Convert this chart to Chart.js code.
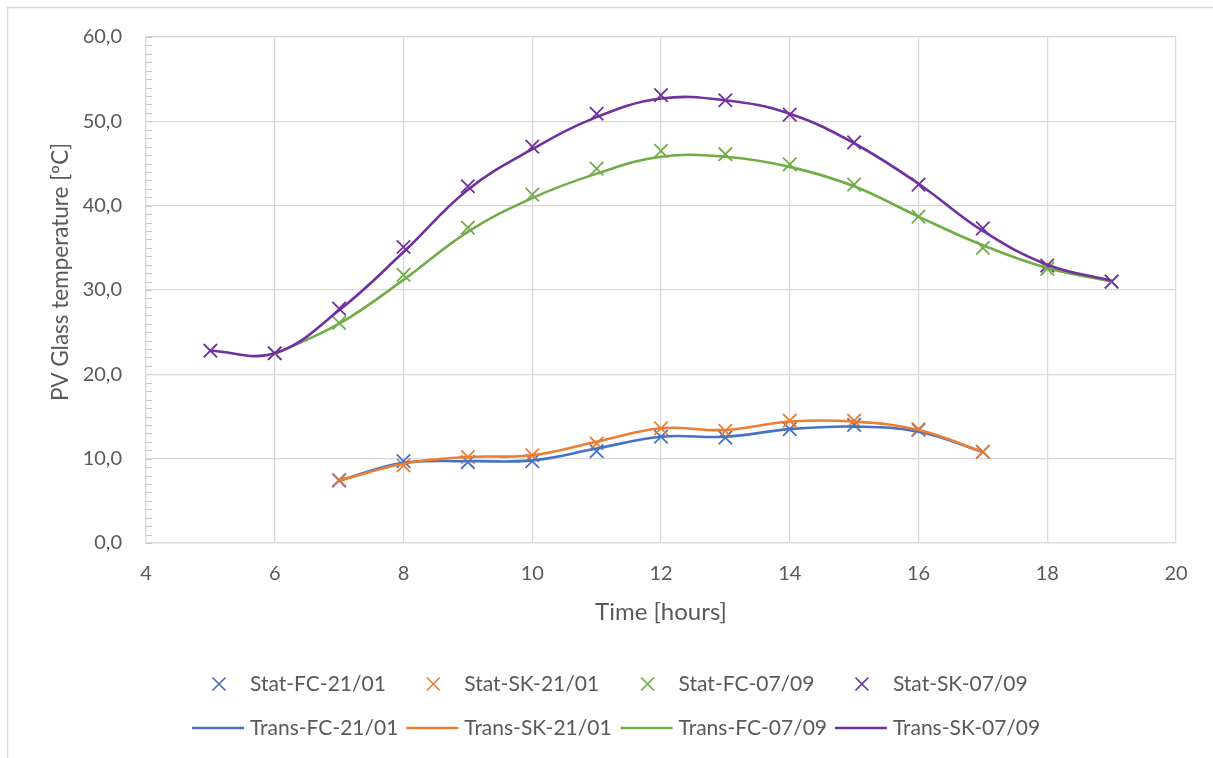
<!DOCTYPE html>
<html>
<head>
<meta charset="utf-8">
<title>PV Glass temperature</title>
<script src="https://cdn.jsdelivr.net/npm/chart.js@4.4.1/dist/chart.umd.min.js"></script>
<style>
  html, body { margin: 0; padding: 0; background: #ffffff; }
  #wrap { position: relative; width: 1213px; height: 758px; }
</style>
</head>
<body>
<div id="wrap"><canvas id="chart"></canvas></div>
<script>
// Hours of day for each series
const hoursJan = [7, 8, 9, 10, 11, 12, 13, 14, 15, 16, 17];
const hoursSepFC = [6, 7, 8, 9, 10, 11, 12, 13, 14, 15, 16, 17, 18, 19];
const hoursSepSK = [5, 6, 7, 8, 9, 10, 11, 12, 13, 14, 15, 16, 17, 18, 19];

// Stationary model results (markers), PV glass temperature in ºC
const statFC2101 = [7.4, 9.7, 9.6, 9.7, 10.9, 12.6, 12.5, 13.5, 14.0, 13.4, 10.8];
const statSK2101 = [7.5, 9.2, 10.2, 10.4, 11.8, 13.6, 13.3, 14.5, 14.5, 13.5, 10.8];
const statFC0709 = [22.5, 26.1, 31.8, 37.4, 41.3, 44.4, 46.5, 46.1, 44.9, 42.5, 38.7, 35.0, 32.5, 31.0];
const statSK0709 = [22.8, 22.5, 27.8, 35.1, 42.3, 47.0, 50.9, 53.1, 52.5, 50.8, 47.5, 42.5, 37.3, 32.9, 31.0];

// Transient model results (smoothed lines), PV glass temperature in ºC
const transFC2101 = [7.4, 9.5, 9.7, 9.8, 11.2, 12.6, 12.6, 13.5, 13.8, 13.2, 10.8];
const transSK2101 = [7.4, 9.4, 10.2, 10.4, 12.0, 13.6, 13.4, 14.4, 14.4, 13.4, 10.8];
const transFC0709 = [22.4, 26.0, 31.2, 36.9, 40.9, 43.8, 45.8, 45.8, 44.6, 42.3, 38.7, 35.3, 32.6, 31.0];
const transSK0709 = [22.8, 22.5, 27.6, 34.5, 41.9, 46.7, 50.5, 52.7, 52.5, 50.9, 47.4, 42.6, 37.0, 33.0, 31.1];

// Axis ticks and titles
const xTicks = [4, 6, 8, 10, 12, 14, 16, 18, 20];
const yTicks = [0, 10, 20, 30, 40, 50, 60];
const xTitle = 'Time [hours]';
const yTitle = 'PV Glass temperature [ºC]';

const colors = { blue: '#4472C4', orange: '#ED7D31', green: '#70AD47', purple: '#7030A0' };
const textColor = '#595959';
const gridColor = '#d9d9d9';
const fontFamily = 'Lato, "Open Sans", sans-serif';

function pts(xs, ys) { return xs.map((x, i) => ({ x: x, y: ys[i] })); }

function statSet(label, xs, ys, color, order) {
  return {
    label: label, data: pts(xs, ys), showLine: false,
    pointStyle: 'crossRot', pointRadius: 9.5, pointHoverRadius: 9.5,
    pointBorderWidth: 1.8, borderColor: color, backgroundColor: color, order: order
  };
}
function transSet(label, xs, ys, color, order) {
  return {
    label: label, data: pts(xs, ys), showLine: true,
    pointRadius: 0, pointHoverRadius: 0, borderWidth: 2.6,
    borderColor: color, backgroundColor: color, tension: 0.4,
    fill: false, order: order
  };
}

const datasets = [
  statSet('Stat-FC-21/01', hoursJan, statFC2101, colors.blue, 8),
  statSet('Stat-SK-21/01', hoursJan, statSK2101, colors.orange, 7),
  statSet('Stat-FC-07/09', hoursSepFC, statFC0709, colors.green, 6),
  statSet('Stat-SK-07/09', hoursSepSK, statSK0709, colors.purple, 5),
  transSet('Trans-FC-21/01', hoursJan, transFC2101, colors.blue, 4),
  transSet('Trans-SK-21/01', hoursJan, transSK2101, colors.orange, 3),
  transSet('Trans-FC-07/09', hoursSepFC, transFC0709, colors.green, 2),
  transSet('Trans-SK-07/09', hoursSepSK, transSK0709, colors.purple, 1)
];

// Outer frame of the chart object
const framePlugin = {
  id: 'frame',
  beforeDraw(chart) {
    const ctx = chart.ctx;
    ctx.save();
    ctx.fillStyle = '#ffffff';
    ctx.fillRect(0, 0, chart.width, chart.height);
    ctx.strokeStyle = '#d9d9d9';
    ctx.lineWidth = 1.5;
    ctx.strokeRect(7.5, 7.5, chart.width + 20, chart.height + 20);
    ctx.restore();
  }
};

// Minor tick marks on the value axis (one per degree) and the value axis title
const yAxisExtras = {
  id: 'yAxisExtras',
  afterDraw(chart) {
    const ys = chart.scales.y;
    const ctx = chart.ctx;
    ctx.save();
    ctx.strokeStyle = '#c8c8c8';
    ctx.lineWidth = 1;
    for (let v = yTicks[0]; v <= yTicks[yTicks.length - 1]; v += 1) {
      const py = Math.round(ys.getPixelForValue(v)) + 0.5;
      ctx.beginPath();
      ctx.moveTo(ys.right, py);
      ctx.lineTo(ys.right + 6, py);
      ctx.stroke();
    }
    ctx.translate(61, 272);
    ctx.rotate(-Math.PI / 2);
    ctx.font = '22.5px ' + fontFamily;
    ctx.fillStyle = textColor;
    ctx.textAlign = 'center';
    ctx.textBaseline = 'middle';
    ctx.fillText(yTitle, 0, 0);
    ctx.restore();
  }
};

// Two-row legend: markers on the first row, lines on the second
const legendPlugin = {
  id: 'twoRowLegend',
  afterDraw(chart) {
    const ctx = chart.ctx;
    const rowsY = [684, 728];
    const colX0 = 250, colStep = 214.3;
    ctx.save();
    ctx.font = '21px ' + fontFamily;
    ctx.textBaseline = 'middle';
    ctx.textAlign = 'left';
    const counters = [0, 0];
    chart.data.datasets.forEach(ds => {
      const row = ds.showLine ? 1 : 0;
      const col = counters[row]++;
      const tx = colX0 + col * colStep;
      const ty = rowsY[row];
      ctx.strokeStyle = ds.borderColor;
      if (row === 0) {
        const cx = tx - 31, r = 6.5;
        ctx.lineWidth = 1.7;
        ctx.beginPath();
        ctx.moveTo(cx - r, ty - r); ctx.lineTo(cx + r, ty + r);
        ctx.moveTo(cx - r, ty + r); ctx.lineTo(cx + r, ty - r);
        ctx.stroke();
      } else {
        ctx.lineWidth = 2.6;
        ctx.beginPath();
        ctx.moveTo(tx - 58, ty); ctx.lineTo(tx - 6, ty);
        ctx.stroke();
      }
      ctx.fillStyle = textColor;
      ctx.fillText(ds.label, tx, ty);
    });
    ctx.restore();
  }
};

function build() {
  Chart.defaults.font.family = fontFamily;
  Chart.defaults.color = textColor;
  new Chart(document.getElementById('chart'), {
    type: 'scatter',
    data: { datasets: datasets },
    plugins: [framePlugin, yAxisExtras, legendPlugin],
    options: {
      responsive: true,
      maintainAspectRatio: false,
      animation: false,
      layout: { padding: { top: 37, right: 37, bottom: 0, left: 0 } },
      plugins: { legend: { display: false }, tooltip: { enabled: false } },
      scales: {
        x: {
          type: 'linear', min: xTicks[0], max: xTicks[xTicks.length - 1],
          afterBuildTicks(scale) { scale.ticks = xTicks.map(v => ({ value: v })); },
          afterFit(scale) { scale.height = 215; },
          ticks: { padding: 19, font: { size: 20 }, color: textColor },
          grid: { color: gridColor, lineWidth: 1.25, drawTicks: false },
          border: { color: gridColor, width: 1.25 },
          title: { display: true, text: xTitle, font: { size: 24 }, color: textColor, padding: { top: 0, bottom: 131 } }
        },
        y: {
          type: 'linear', min: yTicks[0], max: yTicks[yTicks.length - 1],
          afterBuildTicks(scale) { scale.ticks = yTicks.map(v => ({ value: v })); },
          afterFit(scale) { scale.width = 146; },
          ticks: {
            padding: 24, font: { size: 20 }, color: textColor,
            callback: v => v.toFixed(1).replace('.', ',')
          },
          grid: { color: gridColor, lineWidth: 1.25, drawTicks: false },
          border: { color: gridColor, width: 1.25 },
          title: { display: false }
        }
      }
    }
  });
}

if (document.fonts && document.fonts.load) {
  document.fonts.load('20px Lato').then(build, build);
} else {
  build();
}
</script>
</body>
</html>
